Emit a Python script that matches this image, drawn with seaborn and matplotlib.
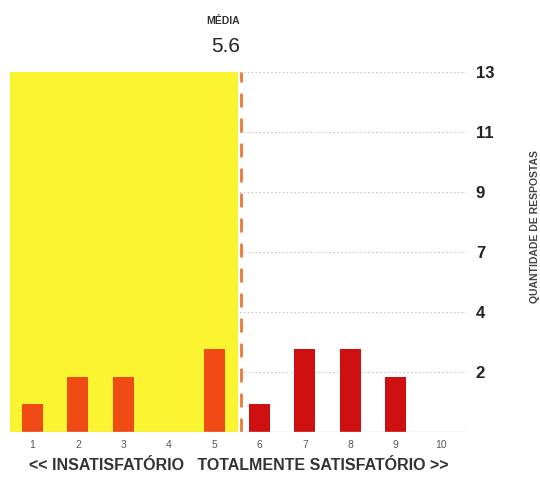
import matplotlib
matplotlib.use("Agg")
import matplotlib.pyplot as plt
import seaborn as sns
import pandas as pd

# Notas de satisfação e quantidade de respostas
notas = [1, 2, 3, 4, 5, 6, 7, 8, 9, 10]
respostas = [1, 2, 2, 0, 3, 1, 3, 3, 2, 0]
grupo = ["baixa"] * 5 + ["alta"] * 5
ytick_pos = [13 / 6 * k for k in range(1, 7)]
ytick_labels = ["2", "4", "7", "9", "11", "13"]
media = 5.6

cores = {"baixa": "#f04a15", "alta": "#cf1010"}

df = pd.DataFrame({"nota": notas, "respostas": respostas, "grupo": grupo})

sns.set_style("white")
plt.rcParams["font.family"] = ["Liberation Sans", "DejaVu Sans"]

fig = plt.figure(figsize=(5.4, 4.78), dpi=100)
ax = fig.add_axes([0.0181, 0.0962, 0.845, 0.753])

# faixa amarela até a média
ax.axvspan(0.5, media - 0.07, color="#faf530", zorder=1, lw=0)

sns.barplot(data=df, x="nota", y="respostas", hue="grupo", palette=cores,
            native_scale=True, dodge=False, width=0.46, legend=False,
            saturation=1, linewidth=0, zorder=3, ax=ax)

ax.axvline(media, color="#ea7a35", lw=2, ls=(0, (5, 4)), zorder=4)

ax.set_xlim(0.5, 10.55)
ax.set_ylim(0, 13)
for y in ytick_pos:
    ax.axhline(y, color="#c8c8c8", lw=0.8, ls=(0, (1.5, 2)), zorder=0.5)
ax.axhline(0, color="#d0d0d0", lw=1, zorder=5)

for s in ax.spines.values():
    s.set_visible(False)

ax.set_xticks(notas)
ax.set_xticklabels([str(n) for n in notas], fontsize=7.5, color="#555555")
ax.tick_params(axis="x", length=0, pad=6)
ax.yaxis.tick_right()
ax.set_yticks(ytick_pos)
ax.set_yticklabels(ytick_labels, fontsize=12, fontweight="bold", color="#222222")
ax.tick_params(axis="y", length=0, pad=7)
ax.set_xlabel("")
ax.set_ylabel("")

fig.text(0.443, 0.027, "<< INSATISFATÓRIO   TOTALMENTE SATISFATÓRIO >>",
         ha="center", va="center", fontsize=11.5, fontweight="bold",
         color="#333333")
fig.text(0.991, 0.525, "QUANTIDADE DE RESPOSTAS", rotation=90, ha="center",
         va="center", fontsize=7.5, fontweight="bold", color="#444444")
fig.text(0.444, 0.956, "MÉDIA", ha="right", va="center", fontsize=7.5,
         fontweight="bold", color="#333333")
fig.text(0.444, 0.902, f"{media}", ha="right", va="center", fontsize=15,
         color="#222222")

fig.savefig("out.png", dpi=100)
